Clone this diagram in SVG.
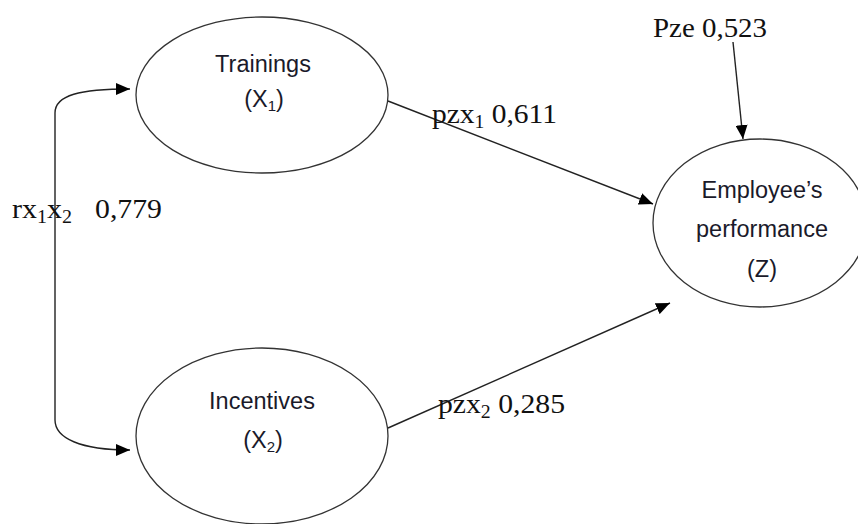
<svg xmlns="http://www.w3.org/2000/svg" width="858" height="524" viewBox="0 0 858 524">
<style>
.node{fill:#fff;stroke:#333;stroke-width:1.3}
.nt{font-family:"Liberation Sans","Open Sans",sans-serif;font-size:23.5px;fill:#1a1a2a;text-anchor:middle}
.lbl{font-family:"Liberation Serif","Times New Roman",serif;font-size:27px;fill:#111}
.conn{fill:none;stroke:#222;stroke-width:1.4}
</style>
<defs>
<marker id="ah" viewBox="0 0 14 12" refX="14" refY="6" markerWidth="14" markerHeight="12" markerUnits="userSpaceOnUse" orient="auto">
<path d="M0,0 L14,6 L0,12 Z" fill="#000"/>
</marker>
</defs>
<g id="connectors">
<path class="conn" d="M55,420 L55,113 C55,95 80,89 130,89" marker-end="url(#ah)"/>
<path class="conn" d="M55,420 C55,438 80,450 130,450" marker-end="url(#ah)"/>
<line class="conn" x1="388" y1="101" x2="653" y2="204" marker-end="url(#ah)"/>
<line class="conn" x1="388" y1="428" x2="670" y2="303" marker-end="url(#ah)"/>
<line class="conn" x1="733" y1="42" x2="743" y2="139" marker-end="url(#ah)"/>
</g>
<g id="node-trainings">
<ellipse class="node" cx="262" cy="95" rx="126" ry="78"/>
<text class="nt" x="263" y="72">Trainings</text>
<text class="nt" x="264" y="107">(X<tspan font-size="15" dy="4">1</tspan><tspan dy="-4">)</tspan></text>
</g>
<g id="node-incentives">
<ellipse class="node" cx="262" cy="436" rx="126" ry="88"/>
<text class="nt" x="262" y="409">Incentives</text>
<text class="nt" x="263" y="448">(X<tspan font-size="15" dy="4">2</tspan><tspan dy="-4">)</tspan></text>
</g>
<g id="node-performance">
<ellipse class="node" cx="760" cy="223" rx="107" ry="84"/>
<text class="nt" x="762" y="198">Employee’s</text>
<text class="nt" x="762" y="237">performance</text>
<text class="nt" x="762" y="277">(Z)</text>
</g>
<g id="labels">
<text class="lbl" x="653" y="37" textLength="114" lengthAdjust="spacingAndGlyphs">Pze 0,523</text>
<text class="lbl" x="432" y="123" textLength="125" lengthAdjust="spacingAndGlyphs">pzx<tspan font-size="18" dy="5">1</tspan><tspan dy="-5"> 0,611</tspan></text>
<text class="lbl" x="438" y="413" textLength="127" lengthAdjust="spacingAndGlyphs">pzx<tspan font-size="18" dy="5">2</tspan><tspan dy="-5"> 0,285</tspan></text>
<text class="lbl" x="12" y="218" textLength="60" lengthAdjust="spacingAndGlyphs">rx<tspan font-size="18" dy="5">1</tspan><tspan dy="-5">x</tspan><tspan font-size="18" dy="5">2</tspan></text>
<text class="lbl" x="95" y="218" textLength="67" lengthAdjust="spacingAndGlyphs">0,779</text>
</g>
</svg>
